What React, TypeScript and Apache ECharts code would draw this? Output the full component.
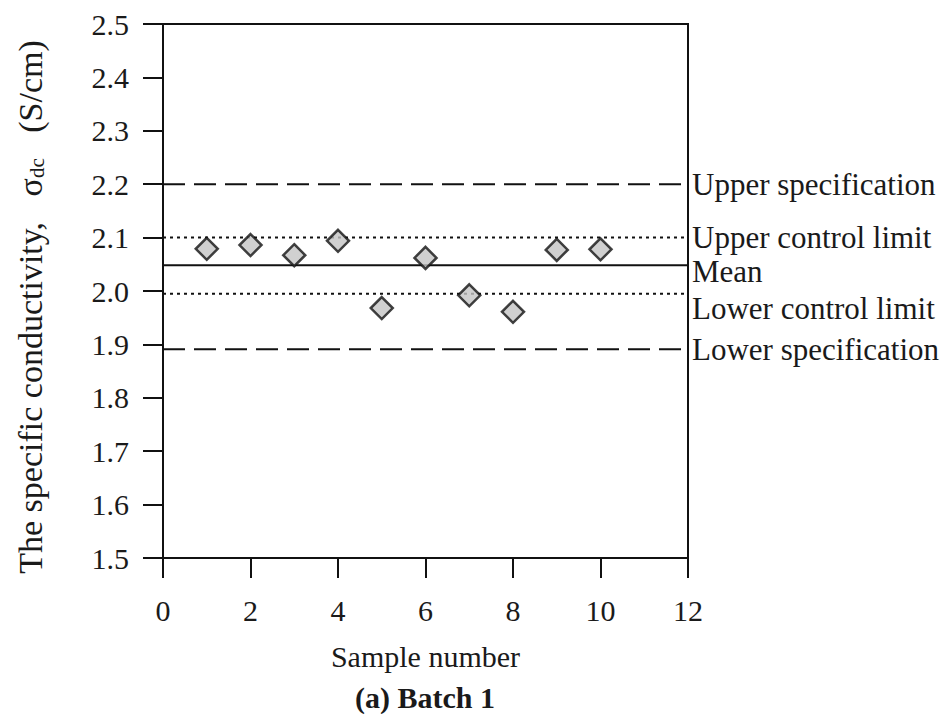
import React, { useEffect, useRef } from "react";
import * as echarts from "echarts";

const sampleNumbers = [1, 2, 3, 4, 5, 6, 7, 8, 9, 10];
const conductivity = [2.079, 2.086, 2.067, 2.094, 1.968, 2.062, 1.992, 1.961, 2.077, 2.078];

const limitNames = [
  "Upper specification",
  "Upper control limit",
  "Mean",
  "Lower control limit",
  "Lower specification",
];
const limitValues = [2.2, 2.1, 2.048, 1.995, 1.891];

const xTicks = [0, 2, 4, 6, 8, 10, 12];
const yTickLabels = ["1.5", "1.6", "1.7", "1.8", "1.9", "2.0", "2.1", "2.2", "2.3", "2.4", "2.5"];

const FONT = "Liberation Serif";
const lineTypes: any[] = [[22, 9], [3, 4], "solid", [3, 4], [22, 9]];
const labelShift = [0, 0, 6, 15, 0];

export default function App() {
  const ref = useRef<HTMLDivElement>(null);
  useEffect(() => {
    if (!ref.current) return;
    const chart = echarts.init(ref.current, undefined, { renderer: "svg" });
    const xMin = xTicks[0];
    const xMax = xTicks[xTicks.length - 1];
    const yMin = Number(yTickLabels[0]);
    const yMax = Number(yTickLabels[yTickLabels.length - 1]);

    const limitSeries = limitValues.map((v, i) => ({
      type: "line",
      name: limitNames[i],
      data: [
        [xMin, v],
        [xMax, v],
      ],
      symbol: "none",
      silent: true,
      z: 2,
      lineStyle: { color: "#111", width: 2, type: lineTypes[i] },
    }));

    chart.setOption({
      animation: false,
      backgroundColor: "#fff",
      grid: {
        left: 163,
        right: 264,
        top: 24,
        bottom: 156,
        show: true,
        borderColor: "#111",
        borderWidth: 2,
        backgroundColor: "transparent",
      },
      xAxis: {
        type: "value",
        min: xMin,
        max: xMax,
        interval: 2,
        name: "Sample number",
        nameLocation: "middle",
        nameGap: 83,
        nameMoveOverlap: false,
        nameTextStyle: { fontFamily: FONT, fontSize: 30, color: "#1a1a1a" },
        axisLine: { show: true, lineStyle: { color: "#111", width: 2 } },
        axisTick: { show: true, inside: false, length: 20, lineStyle: { color: "#111", width: 2 } },
        axisLabel: { margin: 37, fontFamily: FONT, fontSize: 30, color: "#1a1a1a" },
        splitLine: { show: false },
      },
      yAxis: {
        type: "value",
        min: yMin,
        max: yMax,
        interval: 0.1,
        name: "{m|The specific conductivity,   σ}{s|dc}{m|   (S/cm)}",
        nameLocation: "middle",
        nameGap: 116,
        nameMoveOverlap: false,
        nameTextStyle: {
          fontFamily: FONT,
          fontSize: 34,
          color: "#1a1a1a",
          padding: [0, 32, 0, 0],
          rich: {
            m: { fontFamily: FONT, fontSize: 34, lineHeight: 40, color: "#1a1a1a", verticalAlign: "bottom" },
            s: { fontFamily: FONT, fontSize: 21, lineHeight: 25, color: "#1a1a1a", verticalAlign: "bottom" },
          },
        },
        axisLine: { show: true, lineStyle: { color: "#111", width: 2 } },
        axisTick: { show: true, inside: false, length: 20, lineStyle: { color: "#111", width: 2 } },
        axisLabel: {
          margin: 34,
          fontFamily: FONT,
          fontSize: 30,
          color: "#1a1a1a",
          formatter: (v: number) => v.toFixed(1),
        },
        splitLine: { show: false },
      },
      series: [
        ...limitSeries,
        {
          type: "scatter",
          name: "Samples",
          data: sampleNumbers.map((x, i) => [x, conductivity[i]]),
          symbol: "diamond",
          symbolSize: 22,
          z: 5,
          itemStyle: { color: "#c4c4c4", borderColor: "#111", borderWidth: 2.5 },
        },
      ],
    });

    const texts: any[] = limitValues.map((v, i) => {
      const p = chart.convertToPixel({ gridIndex: 0 }, [xMax, v]) as number[];
      return {
        type: "text",
        x: p[0] + 4,
        y: p[1] + labelShift[i],
        style: {
          text: limitNames[i],
          fontFamily: FONT,
          fontSize: 31,
          fill: "#1a1a1a",
          textAlign: "left",
          textVerticalAlign: "middle",
        },
      };
    });
    texts.push({
      type: "text",
      x: 425,
      y: 697,
      style: {
        text: "(a) Batch 1",
        fontFamily: FONT,
        fontSize: 30,
        fontWeight: "bold",
        fill: "#1a1a1a",
        textAlign: "center",
        textVerticalAlign: "middle",
      },
    });
    chart.setOption({ graphic: texts });

    return () => chart.dispose();
  }, []);

  return <div ref={ref} style={{ position: "fixed", left: 0, top: 0, width: 952, height: 714 }} />;
}
